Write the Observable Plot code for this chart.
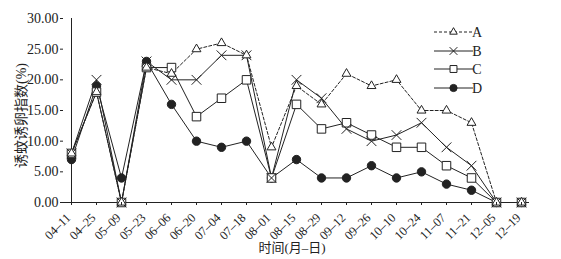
<!DOCTYPE html>
<html><head><meta charset="utf-8">
<script src="https://cdn.jsdelivr.net/npm/d3@7"></script>
<script src="https://cdn.jsdelivr.net/npm/@observablehq/plot@0.6"></script>
<style>body{margin:0;background:#fff}</style>
</head><body><div id="chart"></div>
<script>
const dates = ["04–11","04–25","05–09","05–23","06–06","06–20","07–04","07–18","08–01","08–15","08–29","09–12","09–26","10–10","10–24","11–07","11–21","12–05","12–19"];
const seriesA = [8,18,0,22,21,25,26,24,9,19,16,21,19,20,15,15,13,0,0];
const seriesB = [8,20,0,23,20,20,24,24,4,20,17,12,10,11,13,9,6,0,0];
const seriesC = [8,18,0,22,22,14,17,20,4,16,12,13,11,9,9,6,4,0,0];
const seriesD = [7,19,4,23,16,10,9,10,4,7,4,4,6,4,5,3,2,0,0];
const seriesNames = ["A","B","C","D"];
const yTicks = [0,5,10,15,20,25,30];
const yLabel = "诱蚊诱卵指数(%)";
const xLabel = "时间(月–日)";

const ink = "#222";
const styles = {
  A:{symbol:"triangle", fill:"white", dash:"3,2", r:3.3, lr:2.8},
  B:{symbol:"times", fill:"none", dash:null, r:4.5, lr:3.6},
  C:{symbol:"square", fill:"white", dash:null, r:4.8, lr:3.9},
  D:{symbol:"circle", fill:ink, dash:null, r:4.2, lr:3.6}
};
const valuesBy = {A:seriesA, B:seriesB, C:seriesC, D:seriesD};
const rows = seriesNames.flatMap(s => dates.map((d,i)=>({series:s, date:d, value:valuesBy[s][i]})));

const font = "'Liberation Serif','Noto Sans CJK SC',serif";
const marks = [];
for (const s of seriesNames) {
  const st = styles[s];
  marks.push(Plot.line(rows.filter(r=>r.series===s), {x:"date", y:"value", stroke:ink, strokeWidth:1, strokeDasharray: st.dash || undefined}));
}
marks.push(Plot.ruleY([0], {stroke:ink, strokeWidth:1}));
marks.push(Plot.ruleX([dates[0]], {y1:0, y2:30, stroke:ink, strokeWidth:1}));
for (const s of ["D","C","B","A"]) {
  const st = styles[s];
  marks.push(Plot.dot(rows.filter(r=>r.series===s), {x:"date", y:"value", symbol:st.symbol, r:st.r, stroke:ink, strokeWidth:1, fill:st.fill}));
}
marks.push(Plot.axisY({ticks:yTicks, tickFormat:d3.format(".2f"), tickSize:3, tickPadding:2, fontSize:14, label:null}));
marks.push(Plot.axisX({tickSize:3, tickFormat:()=>"", label:null}));
marks.push(Plot.text(dates, {x:d=>d, frameAnchor:"bottom", rotate:-45, textAnchor:"end", dx:0, dy:16, fontSize:12.5, fill:ink}));
marks.push(Plot.text([yLabel], {frameAnchor:"left", textAnchor:"middle", dx:-42, dy:5, rotate:-90, fontSize:14, fill:ink}));

const chart = Plot.plot({
  width:561, height:259,
  marginLeft:63, marginRight:32, marginTop:18, marginBottom:57,
  style:{fontFamily:font, color:ink, background:"white"},
  x:{type:"point", domain:dates, padding:0},
  y:{domain:[0,30]},
  marks
});
const svg = d3.select(chart);
svg.selectAll("text").style("fill", ink);
svg.append("text").attr("x", 292).attr("y", 252).attr("text-anchor","middle")
  .style("font-family", font).style("font-size","13px").attr("fill", ink).text(xLabel);

const lg = svg.append("g");
const legendRows = [32,51,69,88];
seriesNames.forEach((s,i)=>{
  const st = styles[s];
  const y = legendRows[i];
  lg.append("line").attr("x1",434).attr("x2",473).attr("y1",y).attr("y2",y)
    .attr("stroke",ink).attr("stroke-width",1).attr("stroke-dasharray", st.dash || null);
  const sym = {triangle:d3.symbolTriangle, times:d3.symbolTimes, square:d3.symbolSquare, circle:d3.symbolCircle}[st.symbol];
  lg.append("path").attr("transform",`translate(453.5,${y})`)
    .attr("d", d3.symbol(sym, Math.PI*st.lr*st.lr)())
    .attr("fill", st.fill).attr("stroke", ink).attr("stroke-width",1);
  lg.append("text").attr("x",477).attr("y",y).attr("dy","0.35em")
    .style("font-family",font).style("font-size","14px").attr("fill",ink).text(s);
});
document.getElementById("chart").append(chart);
</script>
</body></html>
